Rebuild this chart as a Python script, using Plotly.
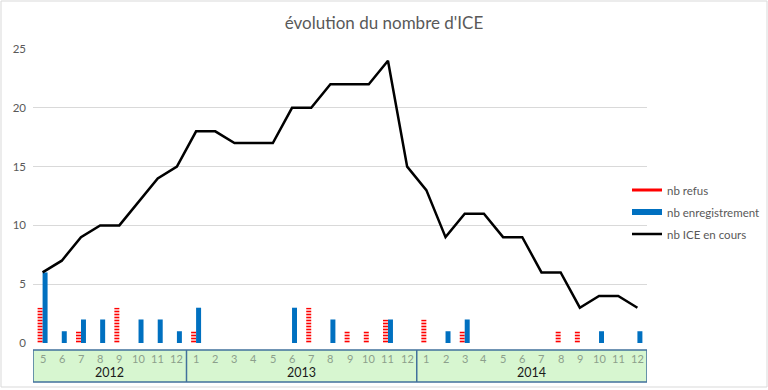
import plotly.graph_objects as go

# ---- data ----
years = ["2012", "2013", "2014"]
months_2012 = ["5", "6", "7", "8", "9", "10", "11", "12"]
months_2013 = ["1", "2", "3", "4", "5", "6", "7", "8", "9", "10", "11", "12"]
months_2014 = ["1", "2", "3", "4", "5", "6", "7", "8", "9", "10", "11", "12"]

refus_2012 = [3, 0, 1, 0, 3, 0, 0, 0]
refus_2013 = [1, 0, 0, 0, 0, 0, 3, 0, 1, 1, 2, 0]
refus_2014 = [2, 0, 1, 0, 0, 0, 0, 1, 1, 0, 0, 0]

enreg_2012 = [6, 1, 2, 2, 0, 2, 2, 1]
enreg_2013 = [3, 0, 0, 0, 0, 3, 0, 2, 0, 0, 2, 0]
enreg_2014 = [0, 1, 2, 0, 0, 0, 0, 0, 0, 1, 0, 1]

encours_2012 = [6, 7, 9, 10, 10, 12, 14, 15]
encours_2013 = [18, 18, 17, 17, 17, 20, 20, 22, 22, 22, 24, 15]
encours_2014 = [13, 9, 11, 11, 9, 9, 6, 6, 3, 4, 4, 3]

yticks = [0, 5, 10, 15, 20, 25]

# ---- build ----
month_groups = [months_2012, months_2013, months_2014]
month_labels = months_2012 + months_2013 + months_2014
refus = refus_2012 + refus_2013 + refus_2014
enreg = enreg_2012 + enreg_2013 + enreg_2014
encours = encours_2012 + encours_2013 + encours_2014
x = list(range(len(month_labels)))

RED = "#FF0000"
BLUE = "#0070C0"
FONT = "Lato, 'Open Sans', sans-serif"

fig = go.Figure()
fig.add_trace(go.Bar(
    x=x, y=refus, name="nb refus", showlegend=False,
    marker=dict(color="white", line=dict(width=0),
                pattern=dict(shape="-", fgcolor=RED, bgcolor="white",
                             size=3, solidity=0.55, fillmode="replace")),
))
fig.add_trace(go.Bar(
    x=x, y=enreg, name="nb enregistrement", showlegend=False,
    marker=dict(color=BLUE, line=dict(width=0)),
))
fig.add_trace(go.Scatter(
    x=x, y=encours, name="nb ICE en cours", mode="lines", showlegend=False,
    line=dict(color="black", width=2.5),
))
# legend entries
fig.add_trace(go.Scatter(x=[None], y=[None], mode="lines", name="nb refus",
                         legendgroup="a", line=dict(color=RED, width=3)))
fig.add_trace(go.Scatter(x=[None], y=[None], mode="lines", name="nb enregistrement",
                         legendgroup="b", line=dict(color=BLUE, width=6)))
fig.add_trace(go.Scatter(x=[None], y=[None], mode="lines", name="nb ICE en cours",
                         legendgroup="c", line=dict(color="black", width=2.5)))

n = len(x)
PLOT_H = 294
y_top, y_bot = -7 / PLOT_H, -39 / PLOT_H
shapes = [
    dict(type="rect", xref="x", yref="paper", x0=-0.5, x1=n - 0.5,
         y0=y_bot, y1=y_top, fillcolor="#D7F6D0",
         line=dict(color="#41719C", width=1.5), layer="below"),
    dict(type="rect", xref="paper", yref="paper",
         x0=-32 / 614, x1=734 / 614, y0=-44 / PLOT_H, y1=342 / PLOT_H,
         line=dict(color="#D9D9D9", width=1), fillcolor="rgba(0,0,0,0)"),
]
annotations = []
start = 0
for yi, (yr, mg) in enumerate(zip(years, month_groups)):
    end = start + len(mg)
    if yi > 0:
        shapes.append(dict(type="line", xref="x", yref="paper",
                           x0=start - 0.5, x1=start - 0.5, y0=y_bot, y1=y_top,
                           line=dict(color="#41719C", width=1.5)))
    annotations.append(dict(x=(start + end - 1) / 2, y=-30 / PLOT_H, xref="x", yref="paper",
                            text=yr, showarrow=False, yanchor="middle",
                            font=dict(family=FONT, size=12.5, color="#1a1a1a")))
    start = end
for xi, m in zip(x, month_labels):
    annotations.append(dict(x=xi, y=-15 / PLOT_H, xref="x", yref="paper", text=m,
                            showarrow=False, yanchor="middle",
                            font=dict(family=FONT, size=11, color="#8C9F8C")))

fig.update_layout(
    width=768, height=390,
    margin=dict(l=33, r=121, t=49, b=47, autoexpand=False),
    paper_bgcolor="white", plot_bgcolor="white",
    barmode="group", bargap=0.48, bargroupgap=0,
    title=dict(text="évolution du nombre d'ICE", x=0.5, xref="container",
               xanchor="center", y=1 - 23 / 390, yref="container", yanchor="middle",
               font=dict(family=FONT, size=17, color="#595959")),
    xaxis=dict(range=[-0.5, n - 0.5], showticklabels=False, showgrid=False,
               zeroline=False, showline=False, fixedrange=True),
    yaxis=dict(range=[0, 25], tickvals=yticks, showgrid=True, gridcolor="#D9D9D9",
               gridwidth=1, zeroline=False, showline=False, ticks="",
               ticklabelstandoff=6,
               tickfont=dict(family=FONT, size=11.5, color="#595959")),
    legend=dict(x=627 / 768, xref="container", xanchor="left",
                y=1 - 212 / 390, yref="container", yanchor="middle",
                font=dict(family=FONT, size=11.5, color="#595959"),
                bgcolor="rgba(0,0,0,0)", itemwidth=30, tracegroupgap=3),
    shapes=shapes, annotations=annotations,
    showlegend=True,
)

fig.write_html("out.html", config={"displayModeBar": False},
               post_script="document.body.style.margin='0';document.body.style.overflow='hidden';")
